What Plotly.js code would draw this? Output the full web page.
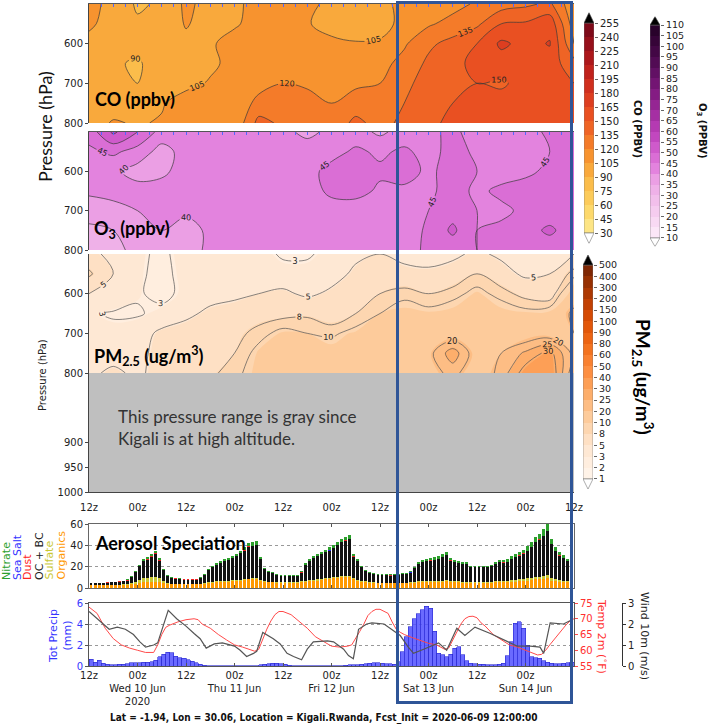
<!DOCTYPE html>
<html><head><meta charset="utf-8">
<script src="https://cdn.plot.ly/plotly-3.0.1.min.js"></script>
<style>html,body{margin:0;padding:0;background:#fff}#chart{width:709px;height:728px}</style>
</head><body><div id="chart"></div>
<script>
// ---------------- DATA ----------------
const hours6 = [0,6,12,18,24,30,36,42,48,54,60,66,72,78,84,90,96,102,108,114,120];
const pressure = [500,550,600,650,700,750,800];

const coZ = [
 [110,100,88,92,108,100,102,110,118,110,100,102,98,112,110,115,122,128,132,138,108],
 [108,98,92,96,106,100,104,108,114,106,100,98,96,112,118,125,132,150,152,160,112],
 [100,98,96,98,102,104,108,110,110,108,108,106,108,118,132,140,150,168,160,166,120],
 [98,92,88,98,100,103,108,110,112,110,112,112,115,125,138,145,155,158,155,158,140],
 [100,95,90,96,102,106,108,114,120,118,115,118,120,132,140,148,150,148,155,155,150],
 [102,100,98,104,110,108,108,125,130,125,120,125,122,135,145,150,152,155,156,158,155],
 [100,106,104,106,112,110,108,140,132,128,122,140,128,140,148,152,150,156,158,160,156]
];
const o3Z = [
 [47,56,50,43,42,42,42,42,41,39,41,42,39,42,44,46,43,42,43,46,46],
 [44,46,43,38,42,42,42,42,42,42,43,46,44,46,43,47,44,42,43,45,46],
 [42,41,38,39,42,42,42,42,43,43,47,47,46,47,44,47,45,43,44,46,47],
 [41,42,42,42,42,42,42,42,43,43,46,47,44,44,44,47,44,46,47,47,47],
 [37,38,40,42,41,42,42,42,43,43,43,42,42,42,45,48,45,44,46,47,47],
 [34,35,38,40,38,41,42,42,43,43,42,42,42,42,46,51,45,46,48,51,47],
 [33,34,36,39,38,41,42,42,43,42,42,42,42,43,46,47,45,47,48,47,46]
];
const pmZ = [
 [6,4,3.5,2.5,4,4,4,3.5,2.8,2.8,3.5,4.5,5,4.5,4,4.5,5.5,4.5,4,4.5,5],
 [8.5,5,3.5,2.2,4,4,4,4,3.5,3.5,4,5.5,6,5.5,5.5,6,8,6,4.5,5,9],
 [5,4.5,3.2,2.5,3.5,4.2,4.5,5,5.5,4.5,5.5,7,8,9,8,9,11,9,7,6,15],
 [3.2,2.8,2.8,3.5,4.5,5.5,6,6.5,7,7.5,6,8,10,12,11,12,13,12,11,12,22],
 [3.5,3.5,4,5.5,6,6.5,7,9,11,10,9.5,11,13,14,14,15,14,14,15,16,20],
 [4,4,4.2,6,6.5,7,8,11,13,13,12,14,15,15,18,28,16,20,26,32,18],
 [4.5,5.5,4.5,6,6.5,7.5,9,12,14,14,13,18,15,15,17,22,15,22,33,35,16]
];

const coTickLabels = ['30','45','60','75','90','105','120','135','150','165','180','195','210','225','240','255'];
const o3TickLabels = ['10','15','20','25','30','35','40','45','50','55','60','65','70','75','80','85','90','95','100','105','110'];
const pmLevels = [1,2,3,5,8,10,20,25,30,40,50,60,80,90,100,150,200,300,400,500];
const pmLabelLevels = [2,3,5,8,10,20,25,30];

const coColors = ['#fef0a0','#fde585','#fdd96c','#fccb5a','#fbbd4b','#f9a93c','#f7932f','#f47b29','#ef6425','#e95022','#dd3e20','#d02f1e','#c0221c','#ac171b','#96101b','#7e0a1a','#000000'];
const o3Colors = ['#fdf2fb','#fbe6f7','#f8d9f3','#f5ccef','#f2bfeb','#efb1e8','#eb9fe4','#e383de','#da6ed5','#cf5acb','#c247bf','#b53ab2','#a52fa3','#952593','#841c83','#731573','#621064','#520b54','#430745','#360438','#29022b','#000000'];
const pmColors = ['#ffffff','#fff3e8','#ffeedf','#fee8d4','#fee0c4','#fdd6b0','#fdcb9b','#fdbd84','#fdae6b','#fd9f56','#fd8f42','#f98131','#f37320','#ec6413','#e2570a','#d54b04','#c24103','#ad3903','#973103','#7f2704','#000000'];

const timeTickHours = [0,12,24,36,48,60,72,84,96,108,120];
const timeTickText = ['12z','00z','12z','00z','12z','00z','12z','00z','12z','00z','12z'];
const dateTickHours = [0,12,24,36,48,60,72,84,96,108];
const dateTickText = ['12z','00z<br>Wed 10 Jun<br>2020','12z','00z<br>Thu 11 Jun','12z','00z<br>Fri 12 Jun','12z','00z<br>Sat 13 Jun','12z','00z<br>Sun 14 Jun'];

// hourly aerosol speciation (ug/m3), hours 0..119 from 2020-06-09 12z
const organics = [2.5,2.5,2.5,2.5,2.5,2.5,2.5,2.5,3,3, 3.5,4,5,5.5,5.5,6,6,5.5,4.5,4, 3.5,3.5,3.5,3.5,3.5,3.5,3.5,3.5,4,4.5, 5,5.5,5.5,6,6,6.5,6.5,7,7.5,8, 8.5,8.5,7,6,5.5,5.5,5,5,5,5, 5,5,5.5,6,6.5,7,7,7.5,8,8.5, 9,9.5,10,10,10.5,8,7,6,5.5,5, 5,4.5,4.5,4.5,4.5,4.5,4.5,4.5,4.5,5, 5,5.5,5.5,5.5,6,6,6,6,6.5,6, 5.5,5.5,5,5,5,5,5,5,5,5, 5.5,5.5,5.5,5.5,6,6,6.5,6.5,7,7.5, 8,8,8.5,9,7,6.5,6,6,5.5,5.5];
const sulfate = [0.5,0.5,0.5,0.5,0.5,0.5,0.5,0.5,0.5,0.5, 1,1.5,2.5,3.5,4,4.5,4.5,3.5,2,1, 0.7,0.6,0.5,0.5,0.5,0.5,0.5,0.5,0.6,0.8, 0.8,0.8,0.8,0.8,0.8,0.8,0.8,0.8,0.8,0.8, 0.8,0.8,0.7,0.6,0.5,0.5,0.5,0.5,0.5,0.5, 0.5,0.5,0.7,0.8,0.8,0.8,1,1,1,1, 1,1.2,1.2,1.2,1.2,1,0.8,0.7,0.6,0.5, 0.5,0.5,0.5,0.5,0.5,0.5,0.5,0.5,0.5,0.5, 0.6,0.7,0.8,0.8,1,1,1,1,1,0.9, 0.8,0.8,0.8,0.8,0.7,0.7,0.7,0.7,0.7,0.8, 0.8,0.9,1,1,1.2,1.4,1.6,1.8,2,2.2, 2.4,2.6,2.8,3,2.2,1.5,1.2,1,1,1];
const ocbc = [1.6,1.6,1.6,1.6,2.1,2.6,2.5,3.0,2.9,3.4, 5.6,9.2,12.8,15.9,17.2,19,21.8,16.6,10.2,6.1, 5.1,4.5,4.4,3.9,3.9,3.9,3.9,5.3,7.5,11.6, 13.9,15.3,17.2,18.5,19.3,20.6,22.4,24.6,26.8,30.1, 30.4,31.2,19.2,11.1,8.9,8,6.6,5.7,5.7,5.7, 5.7,5.7,8.3,14.7,18,20.3,21.9,23.2,24.5,25.3, 27.1,29.2,31.5,33.3,34.6,20.5,17.3,12.8,9.7,8.5, 7.6,7.2,7.2,7.2,6.7,7.2,7.2,8.1,8.1,8.9, 13,16.1,17.8,18.6,18.7,19.5,20.3,22.1,23.1,18.8, 17.8,17,16.7,16.9,14.1,14.2,14.2,14.2,14.1,14.8, 16,17.7,17.4,18.2,20.2,21.2,22.3,24,25.9,28.3, 32.5,34.8,37.6,41.4,31.7,26.4,23.2,21.4,18.4,17.6];
const dust = [0.1,0.1,0.1,0.1,0.1,0.1,0.1,0.1,0.1,0.5, 0.1,0.1,0.1,0.1,0.1,0.1,0.1,0.4,0.1,0.1, 0.1,0.4,0.1,0.1,0.1,0.1,0.1,0.1,0.1,0.1, 0.1,0.1,0.1,0.1,0.1,0.1,0.1,0.1,0.1,0.1, 0.1,0.1,0.1,0.1,0.1,0.1,0.1,0.1,0.1,0.1, 0.1,0.1,0.5,0.1,0.1,0.1,0.1,0.1,0.1,0.1, 0.1,0.1,0.1,0.1,0.1,0.1,0.1,0.1,0.1,0.1, 0.1,0.1,0.1,0.1,0.1,0.1,0.1,0.1,0.1,0.1, 0.1,0.1,0.1,0.1,0.1,0.1,0.1,0.1,0.4,0.1, 0.1,0.1,0.1,0.1,0.1,0.1,0.1,0.1,0.1,0.1, 0.1,0.1,0.1,0.1,0.1,0.1,0.4,0.1,0.1,0.5, 0.1,0.1,0.1,0.1,0.1,0.1,0.1,0.1,0.1,0.1];
const seasalt = [0,0,0,0,0,0,0,0,0,0, 0,0,0,0,0,0,0,0,0,0, 0,0,0,0,0,0,0,0,0,0, 0,0,0,0,0,0,0,0,0,0, 0,0,0,0,0,0,0,0,0,0, 0,0,0,0,0,0,0,0,0,0.5, 0,0,0,0,0,0,0,0,0,0, 0,0,0,0,0.5,0,0,0,0,0.5, 0,0,0,0,0,0,0,0,0,0, 0,0,0,0,0,0,0,0,0,0, 0,0,0,0,0,0.5,0,0,0,0, 0,0,0,0,0,0,0.5,0,0,0];
const nitrate = [0.3,0.3,0.3,0.3,0.3,0.3,0.4,0.4,0.5,0.6, 0.8,1.2,1.6,2,2.2,2.4,2.6,2,1.2,0.8, 0.6,0.5,0.5,0.5,0.5,0.5,0.5,0.6,0.8,1, 1.2,1.3,1.4,1.6,1.8,2,2.2,2.5,2.8,3, 3.2,3.4,2,1.2,1,0.9,0.8,0.7,0.7,0.7, 0.7,0.7,1,1.4,1.6,1.8,2,2.2,2.4,2.6, 2.8,3,3.2,3.4,3.6,2.4,1.8,1.4,1.1,0.9, 0.8,0.7,0.7,0.7,0.7,0.7,0.7,0.8,0.8,1, 1.3,1.6,1.8,2,2.2,2.4,2.6,2.8,3,2.2, 1.8,1.6,1.4,1.2,1.1,1,1,1,1.1,1.3, 1.6,1.8,2,2.2,2.5,2.8,3.2,3.6,4,4.5, 5,5.5,6,6.5,5,3.5,3,2.5,2,1.8];

// hourly total precipitation (mm)
const precip = [0.65,0.35,0.55,0.25,0.15,0.1,0.1,0.15,0.15,0.2, 0.3,0.3,0.3,0.35,0.35,0.4,0.55,0.9,1.1,1.3, 1.25,0.95,0.8,0.75,0.6,0.45,0.3,0.15,0.05,0.03, 0.03,0.03,0.03,0.03,0.03,0.03,0.03,0.03,0.03,0.03, 0.03,0.03,0.1,0.15,0.2,0.25,0.25,0.2,0.15,0.05, 0.03,0.03,0.03,0.03,0.03,0.03,0.03,0.03,0.03,0.03, 0.03,0.03,0.03,0.05,0.1,0.1,0.1,0.15,0.2,0.25, 0.3,0.3,0.25,0.2,0.2,0.15,0.4,1.35,2.8,3.75, 4.5,5.0,5.35,5.7,5.5,3.3,1.2,1.05,0.9,1.1, 1.7,1.85,1.05,0.5,0.25,0.2,0.15,0.15,0.1,0.1, 0.1,0.15,0.25,1.0,2.3,4.05,4.2,3.6,2.0,0.9, 0.8,0.75,0.5,0.35,0.25,0.2,0.2,0.25,0.3,0.35];

const tempHours = [0,2,4,6,8,10,12,14,16,17,18,19,20,22,24,26,27,28,30,32,34,36,38,40,41,42,43,44,45,46,47,48,50,52,54,56,58,60,62,64,65,66,67,68,69,70,71,72,73,74,75,76,77,78,80,82,84,86,88,89,90,91,92,93,94,95,96,97,98,100,102,104,106,108,110,111,112,113,114,115,116,117,118,119,120];
const tempF = [73.7,71.7,67.0,63.7,61.7,60.7,60.0,59.3,59.3,61.7,65.0,67.3,68.0,69.0,69.7,70.0,69.7,68.3,67.0,65.0,63.3,61.7,61.0,60.0,59.7,60.3,63.7,66.7,69.3,71.3,72.3,72.3,71.3,69.0,67.0,64.3,62.7,61.3,61.0,61.3,61.7,63.7,66.0,68.3,71.0,72.3,73.0,73.0,72.3,71.7,69.0,66.7,65.7,65.0,64.0,63.0,62.2,61.7,60.3,60.7,63.3,66.0,68.3,70.0,70.7,70.8,70.3,68.7,67.7,65.0,63.3,61.7,61.0,60.0,59.0,58.5,58.7,60.0,61.7,63.3,65.0,66.7,68.0,69.3,70.0];

const windHours = [0,3,5,7,9,11,12.6,14,16,17,19.6,21.7,24,26,27.5,29,31,33,36,37.4,39,40.7,41.5,43,45.6,47.3,49,50.6,52.6,54,55.5,59,60.5,63,64.2,65.4,66.7,68.7,70,73,75.3,77,79,80.3,82.8,85.2,86.5,88.5,91,93,95.5,99.3,102.6,105.9,109.2,111.6,112.5,114.1,117.4,119.5];
const windMs = [2.6,2.1,1.75,1.85,1.75,1.5,1.15,0.9,1.0,1.1,2.65,2.25,1.9,1.55,1.3,0.85,1.05,1.1,0.95,0.75,0.45,0.6,0.7,1.6,1.3,1.05,0.6,0.45,0.3,0.8,1.15,1.2,1.15,0.8,0.5,0.35,1.75,2.0,2.05,2.0,1.7,1.45,0.9,0.6,0.8,1.0,1.1,0.75,1.8,1.45,1.85,1.55,1.25,0.95,0.95,0.9,0.6,2.05,2.0,2.2];

// ---------------- HELPERS ----------------
const W = 709, H = 728;
const px = x => x / W;
const py = y => 1 - y / H;
const MPL = '"DejaVu Sans", sans-serif';
const PPT = 'Lato, "Open Sans", sans-serif';
const scaleOf = cols => cols.map((c, k) => [k / (cols.length - 1), c]);
const hourIdx = organics.map((_, i) => i + 0.5);

function pmToIndex(v) {
  const L = pmLevels;
  if (v <= L[0]) return Math.max(-0.5, (v - L[0]) / (L[1] - L[0]));
  for (let i = 0; i < L.length - 1; i++) if (v <= L[i + 1]) return i + (v - L[i]) / (L[i + 1] - L[i]);
  return L.length - 0.5;
}
const pmIdx = pmZ.map(r => r.map(pmToIndex));

const labelFont = {family: MPL, size: 8, color: '#222'};
const traces = [];

traces.push({type:'contour', x:hours6, y:pressure, z:coZ, xaxis:'x', yaxis:'y', autocontour:false,
  contours:{start:30, end:255, size:15, coloring:'fill', showlines:true, showlabels:true, labelfont:labelFont},
  line:{color:'#3a3a3a', width:0.7, smoothing:1}, colorscale:scaleOf(coColors), showscale:false, hoverinfo:'skip'});

traces.push({type:'contour', x:hours6, y:pressure, z:o3Z, xaxis:'x2', yaxis:'y2', autocontour:false,
  contours:{start:10, end:110, size:5, coloring:'fill', showlines:true, showlabels:true, labelfont:labelFont},
  line:{color:'#3a3a3a', width:0.7, smoothing:1}, colorscale:scaleOf(o3Colors), showscale:false, hoverinfo:'skip'});

traces.push({type:'contour', x:hours6, y:pressure, z:pmIdx, xaxis:'x3', yaxis:'y3', autocontour:false,
  contours:{start:0, end:pmLevels.length - 1, size:1, coloring:'fill', showlines:false},
  line:{width:0, smoothing:1}, colorscale:scaleOf(pmColors), showscale:false, hoverinfo:'skip'});
pmLabelLevels.forEach(L => traces.push({type:'contour', x:hours6, y:pressure, z:pmZ, xaxis:'x3', yaxis:'y3', autocontour:false,
  contours:{start:L, end:L, size:1000, coloring:'none', showlabels:true, labelfont:labelFont},
  line:{color:'#555', width:0.7, smoothing:1}, showscale:false, hoverinfo:'skip'}));

// aerosol stacked bars
[[organics,'#ff9900'],[sulfate,'#c8c832'],[ocbc,'#111111'],[dust,'#ee2222'],[seasalt,'#2222ee'],[nitrate,'#2ca02c']].forEach(([v,c]) =>
  traces.push({type:'bar', x:hourIdx, y:v, xaxis:'x5', yaxis:'y5', width:0.72, marker:{color:c, line:{width:0}}, hoverinfo:'skip'}));

// precip + temp + wind
traces.push({type:'bar', x:hourIdx, y:precip, xaxis:'x6', yaxis:'y6', width:1, marker:{color:'rgba(80,80,255,0.85)', line:{color:'#2828d0', width:0.6}}, hoverinfo:'skip'});
traces.push({type:'scatter', mode:'lines', x:tempHours, y:tempF, xaxis:'x6', yaxis:'y7', line:{color:'#ff4a4a', width:1}, hoverinfo:'skip'});
traces.push({type:'scatter', mode:'lines', x:windHours, y:windMs, xaxis:'x6', yaxis:'y8', line:{color:'#555', width:1.2}, hoverinfo:'skip'});

// colorbars as heatmaps
function cbTrace(cols, xa, ya) {
  const nInner = cols.length - 2;
  const z = [], edges = [0];
  for (let k = 1; k <= nInner; k++) { z.push([k]); edges.push(k); }
  return {type:'heatmap', x:[0,1], y:edges, z:z, zmin:0, zmax:cols.length - 1, colorscale:scaleOf(cols), showscale:false, xaxis:xa, yaxis:ya, hoverinfo:'skip'};
}
traces.push(cbTrace(coColors, 'x7', 'y9'));
traces.push(cbTrace(o3Colors, 'x8', 'y10'));
traces.push(cbTrace(pmColors, 'x9', 'y11'));

// ---------------- LAYOUT ----------------
const xd = [px(89), px(574)];
const tickF = {family: MPL, size: 10, color: '#222'};
const contourX = (anchor) => ({domain:xd, range:[0,120], anchor:anchor, side:'top', showticklabels:false, ticks:'inside', ticklen:3, tickcolor:'#5566ff', tick0:0, dtick:3, showline:true, linecolor:'#555', linewidth:1, showgrid:false, zeroline:false});
const contourY = (dom, anchor) => ({domain:dom, range:[800,500], anchor:anchor, tickvals:[600,700,800], ticks:'outside', ticklen:3, tickcolor:'#444', showline:true, linecolor:'#444', linewidth:1, showgrid:false, zeroline:false, tickfont:tickF});
const cbY = (dom, rng, anchor, labels, fs) => ({domain:dom, range:rng, anchor:anchor, side:'right', tickvals:labels.map((_, i) => i), ticktext:labels, ticks:'outside', ticklen:3, tickcolor:'#666', showgrid:false, zeroline:false, showline:false, tickfont:{family:MPL, size:fs, color:'#222'}});
const cbX = (x0, x1, anchor) => ({domain:[px(x0), px(x1)], range:[0,1], anchor:anchor, visible:false, fixedrange:true});

const layout = {
  width: W, height: H, margin:{l:0, r:0, t:0, b:0},
  paper_bgcolor:'#ffffff', plot_bgcolor:'rgba(0,0,0,0)',
  showlegend:false, barmode:'stack', font:{family:MPL, size:10, color:'#222'},
  xaxis: contourX('y'),
  yaxis: contourY([py(123), py(4)], 'x'),
  xaxis2: contourX('y2'),
  yaxis2: contourY([py(250), py(132)], 'x2'),
  xaxis3: {domain:xd, range:[0,120], anchor:'y3', showticklabels:false, ticks:'', showline:false, showgrid:false, zeroline:false},
  yaxis3: contourY([py(373), py(254)], 'x3'),
  xaxis4: {domain:xd, range:[0,120], anchor:'y4', tickvals:timeTickHours, ticktext:timeTickText, ticks:'outside', ticklen:4, tickcolor:'rgba(0,0,0,0)', ticklabelstandoff:2, showline:true, linecolor:'#444', showgrid:false, zeroline:false, tickfont:tickF},
  yaxis4: {domain:[py(492), py(373)], range:[1000,762], anchor:'x4', tickvals:[900,950,1000], ticks:'outside', ticklen:3, tickcolor:'#444', showline:true, linecolor:'#444', showgrid:false, zeroline:false, tickfont:tickF},
  xaxis5: {domain:xd, range:[0,120], anchor:'y5', tickvals:timeTickHours, showticklabels:false, ticks:'inside', ticklen:3, tickcolor:'#555', showline:true, mirror:'ticks', linecolor:'#666', showgrid:false, zeroline:false},
  yaxis5: {domain:[py(588), py(524)], range:[0,60], anchor:'x5', tickvals:[0,20,40,60], ticks:'outside', ticklen:3, tickcolor:'#555', showline:true, mirror:true, linecolor:'#666', showgrid:true, gridcolor:'#999', griddash:'dot', gridwidth:1, zeroline:false, tickfont:tickF},
  xaxis6: {domain:xd, range:[0,120], anchor:'y6', tickvals:dateTickHours, ticktext:dateTickText, ticks:'inside', ticklen:3, tickcolor:'#555', showline:true, mirror:true, linecolor:'#555', showgrid:false, zeroline:false, tickfont:tickF},
  yaxis6: {domain:[py(666), py(603)], range:[0,6], anchor:'x6', tickvals:[0,2,4,6], ticks:'outside', ticklen:3, tickcolor:'#555', showline:true, mirror:true, linecolor:'#555', showgrid:true, gridcolor:'#999', griddash:'dot', zeroline:false, tickfont:{family:MPL, size:10, color:'#3535ff'}},
  yaxis7: {overlaying:'y6', side:'right', anchor:'x6', range:[55,75], tickvals:[55,60,65,70,75], ticks:'outside', ticklen:3, tickcolor:'#ff4a4a', showgrid:false, zeroline:false, showline:false, tickfont:{family:MPL, size:10, color:'#ff3030'}},
  yaxis8: {overlaying:'y6', side:'right', anchor:'free', position:px(622), range:[0,3], tickvals:[0,1,2,3], ticks:'outside', ticklen:3, tickcolor:'#333', showline:true, linecolor:'#333', showgrid:false, zeroline:false, tickfont:tickF},
  xaxis7: cbX(584, 594, 'y9'),
  yaxis9: cbY([py(243.5), py(12.5)], [-0.75, 15.75], 'x7', coTickLabels, 10),
  xaxis8: cbX(650, 660, 'y10'),
  yaxis10: cbY([py(246.5), py(16.5)], [-0.8, 20.8], 'x8', o3TickLabels, 9.5),
  xaxis9: cbX(583, 593, 'y11'),
  yaxis11: cbY([py(489.1), py(254.9)], [-0.9, 19.9], 'x9', pmLevels.map(String), 9.5),
  shapes: [
    {type:'rect', xref:'x4', yref:'y4', x0:0, x1:120, y0:762, y1:1000, fillcolor:'#bfbfbf', line:{width:0}, layer:'below'},
    // colorbar outlines + extension triangles
    {type:'rect', xref:'x7', yref:'y9', x0:0, x1:1, y0:0, y1:15, line:{color:'#777', width:0.6}},
    {type:'path', xref:'x7', yref:'y9', path:'M0,15 L1,15 L0.5,15.75 Z', fillcolor:'#000', line:{color:'#555', width:0.6}},
    {type:'path', xref:'x7', yref:'y9', path:'M0,0 L1,0 L0.5,-0.75 Z', fillcolor:'#fff', line:{color:'#777', width:0.6}},
    {type:'rect', xref:'x8', yref:'y10', x0:0, x1:1, y0:0, y1:20, line:{color:'#777', width:0.6}},
    {type:'path', xref:'x8', yref:'y10', path:'M0,20 L1,20 L0.5,20.8 Z', fillcolor:'#000', line:{color:'#555', width:0.6}},
    {type:'path', xref:'x8', yref:'y10', path:'M0,0 L1,0 L0.5,-0.8 Z', fillcolor:'#fff', line:{color:'#777', width:0.6}},
    {type:'rect', xref:'x9', yref:'y11', x0:0, x1:1, y0:0, y1:19, line:{color:'#777', width:0.6}},
    {type:'path', xref:'x9', yref:'y11', path:'M0,19 L1,19 L0.5,19.9 Z', fillcolor:'#000', line:{color:'#555', width:0.6}},
    {type:'path', xref:'x9', yref:'y11', path:'M0,0 L1,0 L0.5,-0.9 Z', fillcolor:'#fff', line:{color:'#777', width:0.6}},
    // highlight box
    {type:'rect', xref:'paper', yref:'paper', x0:px(397.5), x1:px(571.5), y0:py(702.5), y1:py(2.5), line:{color:'#2f5597', width:3}, fillcolor:'rgba(0,0,0,0)', layer:'above'}
  ],
  annotations: []
};

function ann(text, x, y, o) {
  layout.annotations.push(Object.assign({text:text, x:px(x), y:py(y), xref:'paper', yref:'paper', showarrow:false, xanchor:'center', yanchor:'middle', font:{family:MPL, size:10, color:'#222'}}, o || {}));
}
ann('<b>CO (ppbv)</b>', 93, 99, {xanchor:'left', font:{family:PPT, size:18, color:'#000'}});
ann('<b>O<sub>3</sub> (ppbv)</b>', 92, 229, {xanchor:'left', font:{family:PPT, size:18, color:'#000'}});
ann('<b>PM<sub>2.5</sub> (ug/m<sup>3</sup>)</b>', 92, 356, {xanchor:'left', font:{family:PPT, size:18, color:'#000'}});
ann('<b>Aerosol Speciation</b>', 93, 543, {xanchor:'left', font:{family:PPT, size:18, color:'#000'}});
ann('This pressure range is gray since<br>Kigali is at high altitude.', 116, 427, {xanchor:'left', align:'left', font:{family:PPT, size:17, color:'#333'}});
ann('Pressure (hPa)', 45, 127, {textangle:-90, font:{family:PPT, size:18, color:'#111'}});
ann('Pressure (hPa)', 43, 375, {textangle:-90, font:{family:MPL, size:10, color:'#222'}});
// aerosol species labels
[['Nitrate',6,'#2ca02c'],['Sea Salt',17,'#3333ff'],['Dust',27,'#ff2222'],['OC + BC',39,'#222'],['Sulfate',49,'#c8c832'],['Organics',61,'#ff9900']].forEach(([t,x,c]) =>
  ann(t, x, 582, {textangle:-90, yanchor:'bottom', font:{family:MPL, size:11, color:c}}));
ann('Tot Precip<br>(mm)', 60, 636, {textangle:-90, font:{family:MPL, size:11, color:'#3535ff'}});
ann('Temp 2m (<sup>∘</sup>F)', 603, 636, {textangle:90, font:{family:MPL, size:11, color:'#ff3030'}});
ann('Wind 10m (m/s)', 645, 636, {textangle:90, font:{family:MPL, size:11, color:'#222'}});
ann('<b>CO (PPBV)</b>', 638, 129, {textangle:90, font:{family:MPL, size:10, color:'#111'}});
ann('<b>O<sub>3</sub> (PPBV)</b>', 702, 131, {textangle:90, font:{family:MPL, size:10, color:'#111'}});
ann('<b>PM<sub>2.5</sub> (ug/m<sup>3</sup>)</b>', 643, 377, {textangle:90, font:{family:PPT, size:19, color:'#000'}});
ann('<b>Lat = -1.94, Lon = 30.06, Location = Kigali.Rwanda, Fcst_Init = 2020-06-09 12:00:00</b>', 324, 718, {font:{family:'"DejaVu Sans Condensed", "DejaVu Sans", sans-serif', size:10, color:'#111'}});

Plotly.newPlot('chart', traces, layout, {displayModeBar:false, staticPlot:true});
</script></body></html>
